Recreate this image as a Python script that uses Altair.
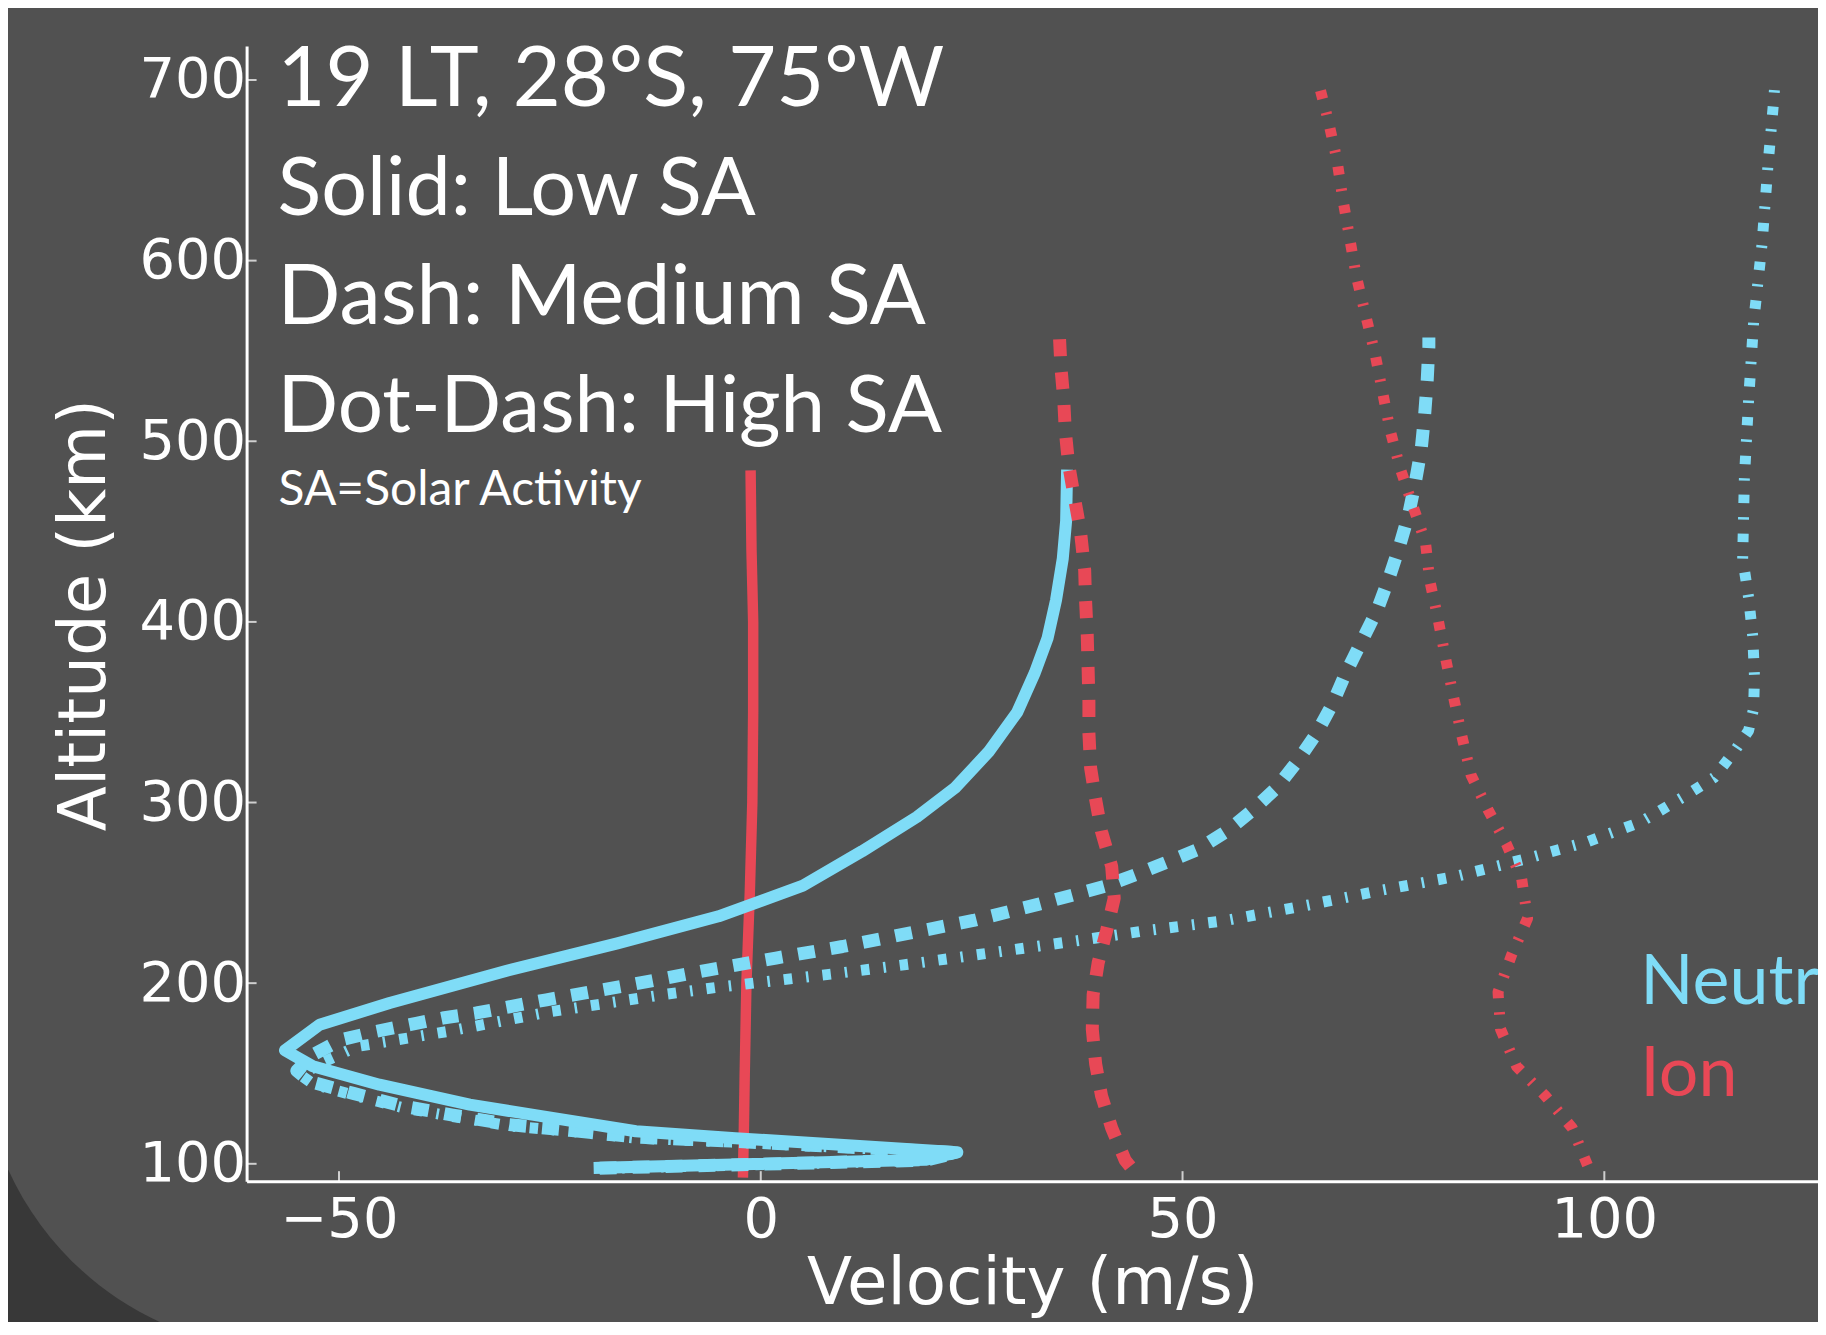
import altair as alt
import pandas as pd

# ---------------- data ----------------
# Neutral wind, low solar activity (solid)
n_low_vel = [-19.1, 19.5, 23.3, -3.0, -14.8, -24.7, -34.5, -45.2, -53.1, -56.4, -52.3,
             -44.0, -30.0, -17.0, -5.0, 5.0, 12.0, 18.5, 23.0, 27.0, 30.4, 32.5, 34.0,
             35.0, 35.8, 36.2, 36.3]
n_low_alt = [97.8, 102.2, 106.4, 114.2, 118.0, 125.4, 132.8, 143.8, 154.0, 162.8, 177.0,
             189.0, 207.0, 222.0, 237.0, 254.0, 273.0, 292.0, 308.0, 328.0, 350.0, 372.0, 391.0,
             412.0, 435.0, 456.0, 481.0]

# Neutral wind, medium solar activity (dash)
n_med_vel = [-19.1, 19.5, 23.3, -3.5, -14.8, -22.7, -29.8, -36.5, -42.4, -48.3, -53.4, -55.0,
             -53.1, -49.7, -45.6, -41.6, -37.7, -33.7, -25.4, -15.0, -6.1, 1.8, 9.7, 17.6,
             25.2, 33.1, 40.7, 44.4, 48.3, 51.9, 55.3, 58.4, 61.2, 63.7, 65.9, 67.8, 69.3,
             71.2, 73.1, 74.6, 75.7, 76.8, 77.6, 78.3, 78.7, 79.0, 79.2, 79.2]
n_med_alt = [97.6, 102.0, 106.2, 112.5, 114.8, 118.6, 121.7, 127.0, 131.9, 139.0, 145.5, 151.5,
             160.4, 168.7, 173.3, 177.0, 180.7, 183.5, 190.8, 199.5, 207.4, 213.9, 220.3, 227.7,
             234.7, 243.9, 253.5, 260.0, 267.3, 274.2, 284.3, 296.1, 308.4, 323.4, 338.4, 354.8, 371.2,
             389.0, 406.8, 426.0, 441.6, 459.4, 477.5, 495.9, 514.6, 533.4, 552.2, 557.5]

# Neutral wind, high solar activity (dot-dash)
n_high_vel = [-19.1, 19.5, 23.3, -3.5, -14.8, -22.7, -29.8, -36.5, -42.4, -48.3, -53.0, -54.5,
              -52.0, -47.9, -37.3, -25.2, -11.6, -5.3, -0.7, 8.7, 17.9, 27.0, 36.3, 45.6,
              55.0, 64.4, 73.1, 82.5, 90.6, 98.0, 104.3, 109.3, 113.0, 115.5, 117.1, 117.7,
              117.8, 117.6, 117.1, 116.4, 116.6, 117.1, 117.7, 118.7, 119.4, 120.0, 120.2]
n_high_alt = [97.4, 101.8, 106.0, 112.0, 114.2, 118.0, 121.0, 126.2, 131.0, 138.0, 144.0, 149.0,
              156.0, 164.9, 173.1, 184.0, 193.6, 197.6, 200.1, 205.2, 210.7, 216.6, 222.7, 229.0,
              234.6, 242.8, 251.0, 259.2, 268.7, 278.3, 289.2, 302.9, 313.8, 328.9, 339.8, 352.1,
              369.8, 391.7, 413.6, 435.0, 479.1, 522.6, 566.0, 609.4, 652.8, 684.5, 696.5]

# Ion drift, low solar activity (solid)
i_low_vel = [-2.1, -2.0, -1.9, -1.7, -1.3, -1.0, -0.9, -0.9, -1.1, -1.2]
i_low_alt = [95.3, 120.0, 150.0, 200.0, 250.0, 300.0, 350.0, 400.0, 440.0, 481.0]

# Ion drift, medium solar activity (dash)
i_med_vel = [43.8, 43.2, 41.6, 40.4, 39.7, 39.3, 39.4, 40.0, 41.0, 41.9, 41.6, 40.4, 39.7,
             39.1, 38.9, 38.9, 38.8, 38.7, 38.5, 38.4, 37.9, 37.2, 36.5, 36.1, 35.9, 35.6, 35.4]
i_med_alt = [98.5, 102.0, 119.8, 137.6, 155.3, 174.5, 193.6, 211.3, 229.1, 247.0, 264.6, 283.8, 301.6,
             319.3, 338.6, 356.2, 375.3, 393.1, 412.3, 428.6, 450.1, 468.3, 487.0, 505.7, 524.5, 540.0, 558.5]

# Ion drift, high solar activity (dot-dash)
i_high_vel = [98.0, 96.2, 93.0, 89.6, 87.7, 87.4, 89.0, 90.9, 90.2, 88.4, 86.2, 84.2, 83.1,
              82.1, 81.2, 80.3, 79.3, 78.8, 77.3, 75.8, 74.6, 73.7, 72.8, 71.7, 70.6, 69.8,
              69.0, 68.3, 67.3, 66.2]
i_high_alt = [99.3, 119.8, 137.6, 153.9, 174.5, 195.0, 215.5, 235.9, 257.8, 277.0, 296.1, 315.2, 337.0,
              359.0, 379.4, 401.3, 423.0, 444.0, 464.3, 485.0, 506.2, 527.5, 548.8, 569.9, 591.3, 612.8,
              634.1, 655.8, 677.0, 697.0]

x_ticks = [-50, 0, 50, 100]
y_ticks = [100, 200, 300, 400, 500, 600, 700]

note_lines = ["19 LT, 28°S, 75°W", "Solid: Low SA", "Dash: Medium SA", "Dot-Dash: High SA"]
note_small = "SA=Solar Activity"
legend_labels = ["Neutral", "Ion"]

# ---------------- styling ----------------
CYAN = "#7FDCF7"
RED = "#E84856"
BG_DARK = "#383838"
BG = "#515151"
W, H = 1574, 1137

xscale = alt.Scale(domain=[-60.95, 125.33], nice=False, zero=False)
yscale = alt.Scale(domain=[90.4, 718.8], nice=False, zero=False)

xaxis = alt.Axis(values=x_ticks, ticks=False, grid=False, labelOverlap=False, labelFlush=False,
                 labelFont="DejaVu Sans", labelFontSize=56, labelColor="white", labelPadding=11.6,
                 domainColor="white", domainWidth=3, zindex=2,
                 title="Velocity (m/s)", titleFont="DejaVu Sans", titleFontSize=66,
                 titleFontWeight="normal", titleColor="white", titleX=787, titleY=123,
                 titleBaseline="alphabetic", titleAlign="center")
yaxis = alt.Axis(values=y_ticks, ticks=False, grid=False, labelOverlap=False, labelFlush=False,
                 labelFont="DejaVu Sans", labelFontSize=56, labelColor="white", labelPadding=1,
                 domainColor="white", domainWidth=3, zindex=2,
                 title="Altitude (km)", titleFont="DejaVu Sans", titleFontSize=66,
                 titleFontWeight="normal", titleColor="white", titleAngle=270,
                 titleX=-142, titleY=569.5, titleBaseline="alphabetic", titleAlign="center")


def X():
    return alt.X("v:Q", scale=xscale, axis=xaxis)


def Y():
    return alt.Y("altitude:Q", scale=yscale, axis=yaxis)


def series_df(vel, alt_):
    return pd.DataFrame({"v": vel, "altitude": alt_, "ord": list(range(len(vel)))})


def line(vel, alt_, color, width, dash=None, cap="butt"):
    kw = dict(color=color, strokeWidth=width, strokeJoin="round", strokeCap=cap)
    if dash is not None:
        kw["strokeDash"] = dash
    return alt.Chart(series_df(vel, alt_)).mark_line(**kw).encode(x=X(), y=Y(), order="ord:Q")


DASH = [17, 16]
DOTDASH = [8.5, 14, 2.5, 14]

one = pd.DataFrame({"k": [0]})

bg = alt.Chart(one).mark_rect(color=BG, cornerRadius=307).encode(
    x=alt.value(-266), x2=alt.value(2200), y=alt.value(-700), y2=alt.value(1306))

layers = [
    bg,
    line(i_low_vel, i_low_alt, RED, 10.5, cap="square"),
    line(n_high_vel, n_high_alt, CYAN, 11, DOTDASH),
    line(n_med_vel, n_med_alt, CYAN, 13, DASH),
    line(n_low_vel, n_low_alt, CYAN, 12, cap="square"),
    line(i_med_vel, i_med_alt, RED, 13, DASH),
    line(i_high_vel, i_high_alt, RED, 11, DOTDASH),
]

# inward ticks
xt = alt.Chart(pd.DataFrame({"v": x_ticks})).mark_rule(color="#cfcfcf", strokeWidth=2).encode(
    x=X(), y=alt.value(H), y2=alt.value(H - 10))
yt = alt.Chart(pd.DataFrame({"altitude": y_ticks})).mark_rule(color="#cfcfcf", strokeWidth=2).encode(
    y=Y(), x=alt.value(0), x2=alt.value(10))
layers += [xt, yt]

# annotation text
note_sizes = [83, 81, 83, 80]
note_base = [60.4, 169, 278, 387]
for txt, fs, yb in zip(note_lines, note_sizes, note_base):
    layers.append(alt.Chart(one).mark_text(font="Lato", fontSize=fs, color="white", align="left",
                                           baseline="alphabetic").encode(
        x=alt.value(31), y=alt.value(yb), text=alt.value(txt)))
layers.append(alt.Chart(one).mark_text(font="Lato", fontSize=48, color="white", align="left",
                                       baseline="alphabetic").encode(
    x=alt.value(32), y=alt.value(460), text=alt.value(note_small)))

for txt, col, yb in zip(legend_labels, [CYAN, RED], [960, 1051.7]):
    layers.append(alt.Chart(one).mark_text(font="Lato", fontSize=70, color=col, align="left",
                                           baseline="alphabetic").encode(
        x=alt.value(1396), y=alt.value(yb), text=alt.value(txt)))

chart = alt.layer(*layers).properties(
    width=W, height=H,
    padding={"left": 239, "top": 37, "right": 0, "bottom": 140},
    autosize=alt.AutoSizeParams(type="none"),
    background=BG_DARK,
).configure_view(stroke=None, fill=None)

chart.save("out.html", embed_options={"renderer": "svg", "actions": False})
